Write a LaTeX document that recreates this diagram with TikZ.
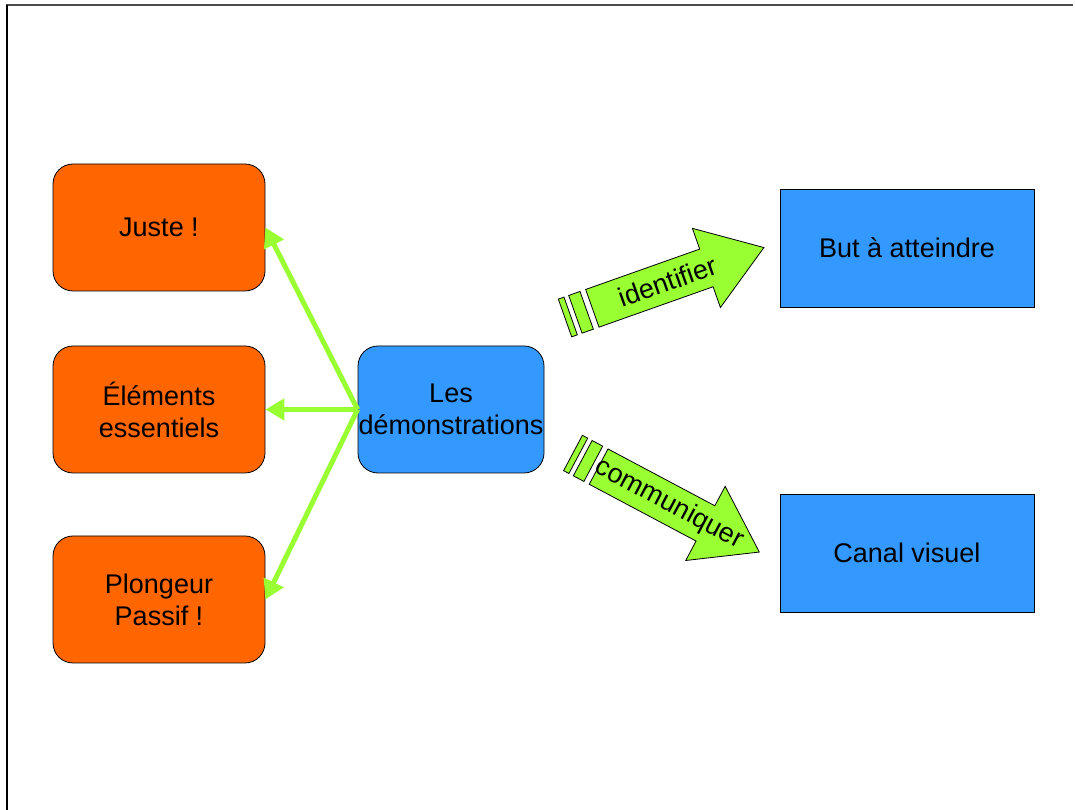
\documentclass[tikz,border=0pt]{standalone}
\usepackage{fontspec}
\setmainfont{Liberation Sans}
\usetikzlibrary{arrows.meta}
\definecolor{leaforange}{HTML}{FF6600}
\definecolor{hubblue}{HTML}{3399FF}
\definecolor{limegreen}{HTML}{99FF33}
\begin{document}
\begin{tikzpicture}
  [x=1pt,y=1pt,
   boxtext/.style={align=center,font=\fontsize{27}{32}\selectfont},
   leaf/.style={boxtext,rectangle,rounded corners=20pt,draw,line width=0.8pt,fill=leaforange,minimum width=212pt,minimum height=127pt},
   hub/.style={boxtext,rectangle,rounded corners=20pt,draw,line width=0.8pt,fill=hubblue,minimum width=186pt,minimum height=127pt,inner sep=0pt},
   goal/.style={boxtext,rectangle,draw,line width=0.8pt,fill=hubblue,minimum width=254pt,minimum height=118pt},
   link/.style={limegreen,line width=5pt,-{Triangle[length=19pt,width=21pt]}},
   bigarrow/.style={draw,line width=0.8pt,fill=limegreen}]
  \useasboundingbox (0,0) rectangle (1075,810);
  \draw [line width=1.2pt,black!70] (6,805) -- (1073,805);
  \draw [line width=2pt] (7,805) -- (7,0);

  \node (juste) at (159,582.5) [leaf] {Juste !};
  \node (elem) at (159,400.5) [leaf] {Éléments\\essentiels};
  \node (plong) at (159,210.5) [leaf] {Plongeur\\Passif !};

  \node (demo) at (451,400.5) [hub] {Les\\démonstrations};

  \node (but) at (907,562) [goal] {But à atteindre};
  \node (canal) at (907,257) [goal] {Canal visuel};

  \draw [link] (demo.west) to (juste.east);
  \draw [link] (demo.west) to (elem.east);
  \draw [link] (demo.west) to (plong.east);

  % striped block arrows
  \foreach \x/\y/\a/\t/\n in {565/492/19.5/identifier/ident,573/357/-28/communiquer/comm}
  {
    \begin{scope}[shift={(\x,\y)},rotate=\a]
      \draw [bigarrow] (0,-20) rectangle (6,20);
      \draw [bigarrow] (11,-20) rectangle (23,20);
      \draw [bigarrow] (29,-20) -- (150,-20) -- (150,-42) -- (211,0)
        -- (150,42) -- (150,20) -- (29,20) -- cycle;
      \node (\n) at (109,0) [boxtext,rotate=\a] {\t};
    \end{scope}
  }
\end{tikzpicture}
\end{document}
